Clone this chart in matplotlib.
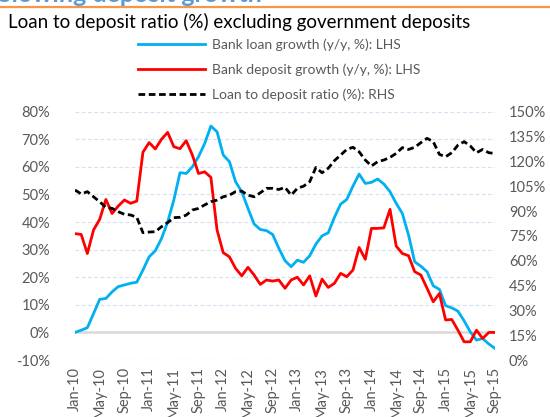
import numpy as np
import pandas as pd
import matplotlib
matplotlib.use("Agg")
import matplotlib.pyplot as plt
from matplotlib.lines import Line2D

plt.rcParams["font.family"] = ["Lato", "DejaVu Sans"]

# monthly, Jan-10 .. Sep-15
months = pd.date_range("2010-01-01", "2015-09-01", freq="MS")

loan_growth = [0.0, 0.8, 1.7, 6.8, 12.0, 12.3, 14.7, 16.6, 17.2, 17.8,
               18.2, 22.6, 27.4, 29.6, 34.0, 40.0, 48.0, 57.9, 57.6, 60.0,
               63.7, 68.5, 74.8, 72.7, 64.3, 61.9, 54.6, 51.0, 45.0, 39.3,
               37.3, 36.9, 35.5, 30.5, 26.0, 23.8, 26.2, 25.4, 27.8, 32.0,
               35.0, 36.1, 41.7, 46.5, 48.2, 53.0, 57.4, 54.0, 54.4, 55.6,
               53.8, 51.0, 46.8, 43.1, 35.3, 25.6, 24.0, 22.0, 16.9, 15.6,
               9.7, 8.9, 7.7, 4.2, 0.2, -2.8, -2.2, -4.2, -5.8]

deposit_growth = [35.8, 35.5, 28.6, 37.1, 41.0, 48.2, 43.1, 45.8, 48.0, 46.8,
                  47.6, 65.3, 68.8, 66.5, 70.0, 72.5, 67.3, 66.6, 69.5, 64.3,
                  57.6, 58.2, 56.2, 37.1, 28.9, 27.4, 23.2, 20.5, 23.6, 20.8,
                  17.4, 19.0, 18.6, 19.0, 16.0, 19.0, 20.0, 17.2, 20.5, 13.2,
                  19.3, 16.3, 17.8, 21.4, 20.2, 22.6, 30.8, 26.5, 37.7, 37.7,
                  37.9, 44.6, 31.3, 28.6, 27.8, 22.0, 20.8, 16.0, 11.1, 14.1,
                  4.5, 4.7, 0.8, -3.4, -3.4, 0.8, -2.2, 0.0, 0.0]

ldr = [102.7, 100.3, 101.7, 98.6, 95.6, 92.2, 91.6, 89.6, 88.0, 87.6,
       86.2, 76.9, 77.3, 77.5, 80.5, 83.0, 86.0, 86.2, 87.5, 90.6,
       91.6, 93.7, 95.6, 96.6, 98.6, 99.6, 101.7, 102.0, 99.6, 98.6,
       101.0, 103.7, 103.7, 103.0, 104.3, 99.6, 103.7, 105.0, 107.7, 116.3,
       113.1, 115.8, 120.4, 123.8, 127.2, 128.5, 125.8, 120.8, 117.2, 119.8,
       120.8, 122.4, 124.8, 128.3, 127.2, 128.5, 131.3, 133.9, 131.9, 124.2,
       122.8, 125.2, 129.8, 131.9, 129.3, 125.2, 127.2, 125.2, 124.8]

labels = [d.strftime("%b-%y") for d in months]

BLUE, RED, GREY = "#00B0F0", "#FF0000", "#595959"
GRID = "#D6E1F2"

fig = plt.figure(figsize=(5.5, 4.17), dpi=100)
ax = fig.add_axes([75/550, 1-360/417, 420/550, (360-111.7)/417])
ax2 = ax.twinx()

x = np.arange(len(months))

# grid + zero line
for v in range(-10, 81, 10):
    if v == 0:
        ax.axhline(0, color="#D9D9D9", lw=1.8, zorder=1)
    else:
        ax.axhline(v, color=GRID, lw=0.9, ls=(0, (3, 2)), zorder=0)

ax.plot(x, loan_growth, color=BLUE, lw=2.0, zorder=3)
ax.plot(x, deposit_growth, color=RED, lw=2.0, zorder=3)
ax2.plot(x, ldr, color="black", lw=2.0, dashes=(2.4, 1.3), zorder=3)

ax.set_xlim(0, len(months)-1)
ax.set_ylim(-10, 80)
ax2.set_ylim(0, 150)
ax.set_yticks(range(-10, 81, 10))
ax.set_yticklabels([f"{v}%" for v in range(-10, 81, 10)])
ax2.set_yticks(range(0, 151, 15))
ax2.set_yticklabels([f"{v}%" for v in range(0, 151, 15)])
ax.set_xticks(x[::4])
ax.set_xticklabels(labels[::4], rotation=90)

for a in (ax, ax2):
    for s in a.spines.values():
        s.set_visible(False)
    a.tick_params(length=0, colors=GREY, labelsize=10.5)
ax.tick_params(axis="y", pad=18)
ax2.tick_params(axis="y", pad=10)
ax.tick_params(axis="x", pad=5, labelsize=10.5)

# header: heading cut off by the crop + orange rule + chart title
fig.text(-2/550, 1-1.5/417, "Slowing deposit growth", color="#5B9BD5",
         fontsize=18, fontweight="bold", va="baseline", ha="left")
fig.add_artist(Line2D([0, 1], [1-7/417, 1-7/417], color="#F79646", lw=1.6))
fig.text(8/550, 1-22/417, "Loan to deposit ratio (%) excluding government deposits",
         fontsize=13.5, color="black", va="center", ha="left")

handles = [Line2D([], [], color=BLUE, lw=2.0),
           Line2D([], [], color=RED, lw=2.0),
           Line2D([], [], color="black", lw=2.0, dashes=(2.4, 1.3))]
names = ["Bank loan growth (y/y, %): LHS",
         "Bank deposit growth (y/y, %): LHS",
         "Loan to deposit ratio (%): RHS"]
leg = fig.legend(handles, names, loc="upper left",
                 bbox_to_anchor=(138/550, 1-38/417), frameon=False,
                 fontsize=10, handlelength=4.8, handletextpad=0.5,
                 labelspacing=0.9, borderpad=0, borderaxespad=0)
for t in leg.get_texts():
    t.set_color(GREY)

fig.savefig("out.png", dpi=100, facecolor="white")
